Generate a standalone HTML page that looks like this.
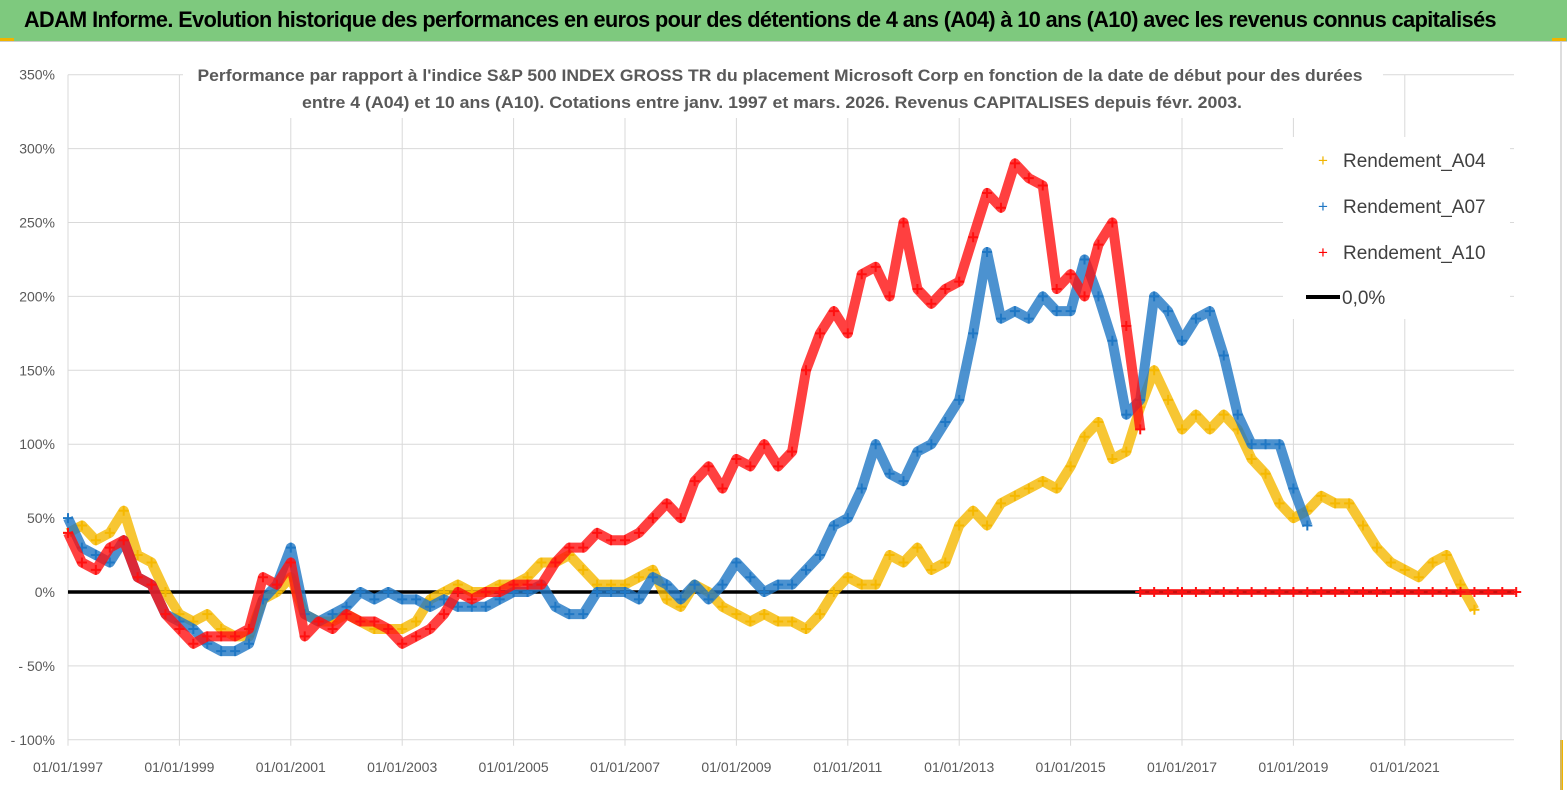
<!DOCTYPE html>
<html><head><meta charset="utf-8"><style>
body{margin:0;width:1567px;height:790px;background:#fff;overflow:hidden;font-family:"Liberation Sans",sans-serif}
#hdr{position:absolute;left:0;top:0;width:1567px;height:41px;background:#7ec97e;border-bottom:1px solid #ccc}
#hdr span{position:absolute;left:24px;top:7px;font-size:22px;font-weight:bold;color:#000;letter-spacing:-0.6px;white-space:nowrap;transform:scaleX(0.985);transform-origin:left}
</style></head><body>
<div id="hdr"><span>ADAM Informe. Evolution historique des performances en euros pour des détentions de 4 ans (A04) à 10 ans (A10) avec les revenus connus capitalisés</span></div>
<svg id="chart" width="1567" height="790" style="position:absolute;left:0;top:0">
<rect x="0" y="38" width="14" height="3" fill="#f0b400"/>
<rect x="1552" y="38" width="14" height="3" fill="#f0b400"/>
<rect x="1560" y="740" width="3" height="50" fill="#f0b400"/>
<line x1="1561" y1="42" x2="1561" y2="790" stroke="#bbb"/>
<g id="grid"></g>
<g id="marks"></g>
<g id="labels" font-family="Liberation Sans, sans-serif" font-size="14" fill="#595959"></g>
<rect x="183" y="62" width="1200" height="56" fill="#fff"/>
<text x="780" y="81" text-anchor="middle" font-size="17" font-weight="bold" fill="#595959" textLength="1165" lengthAdjust="spacingAndGlyphs">Performance par rapport à l'indice S&amp;P 500 INDEX GROSS TR  du placement Microsoft Corp en fonction de la date de début pour des durées</text>
<text x="772" y="108" text-anchor="middle" font-size="17" font-weight="bold" fill="#595959" textLength="940" lengthAdjust="spacingAndGlyphs">entre 4 (A04) et 10 ans (A10). Cotations entre janv. 1997 et mars. 2026. Revenus CAPITALISES depuis févr. 2003.</text>
<g>
<rect x="1283" y="137" width="227" height="182" fill="#fff"/>
<text x="1323" y="166" font-size="17" fill="#f0b400" text-anchor="middle">+</text>
<text x="1343" y="167" font-size="19" fill="#404040">Rendement_A04</text>
<text x="1323" y="212" font-size="17" fill="#1f77c4" text-anchor="middle">+</text>
<text x="1343" y="213" font-size="19" fill="#404040">Rendement_A07</text>
<text x="1323" y="258" font-size="17" fill="#ff0000" text-anchor="middle">+</text>
<text x="1343" y="259" font-size="19" fill="#404040">Rendement_A10</text>
<line x1="1306" y1="297" x2="1340" y2="297" stroke="#000" stroke-width="4"/>
<text x="1342" y="304" font-size="19" fill="#404040">0,0%</text>
</g>
</svg>
<script>
const yTicks=[350,300,250,200,150,100,50,0,-50,-100];
const xTickYears=[1997,1999,2001,2003,2005,2007,2009,2011,2013,2015,2017,2019,2021];
const a04Start=1997;
const a04=[40,45,35,40,55,25,20,0,-15,-20,-15,-25,-30,-30,-5,0,10,-15,-20,-20,-15,-20,-25,-25,-25,-20,-5,0,5,0,0,5,5,10,20,20,25,15,5,5,5,10,15,-5,-10,5,0,-10,-15,-20,-15,-20,-20,-25,-15,0,10,5,5,25,20,30,15,20,45,55,45,60,65,70,75,70,85,105,115,90,95,125,150,130,110,120,110,120,110,90,80,60,50,55,65,60,60,45,30,20,15,10,20,25,5,-12];
const a07=[50,30,25,20,35,10,5,-15,-20,-25,-35,-40,-40,-35,-5,5,30,-15,-20,-15,-10,0,-5,0,-5,-5,-10,-5,-10,-10,-10,-5,0,0,5,-10,-15,-15,0,0,0,-5,10,5,-5,5,-5,5,20,10,0,5,5,15,25,45,50,70,100,80,75,95,100,115,130,175,230,185,190,185,200,190,190,225,200,170,120,130,200,190,170,185,190,160,120,100,100,100,70,45];
const a10=[40,20,15,30,35,10,5,-15,-25,-35,-30,-30,-30,-25,10,5,20,-30,-20,-25,-15,-20,-20,-25,-35,-30,-25,-15,0,-5,0,0,5,5,5,20,30,30,40,35,35,40,50,60,50,75,85,70,90,85,100,85,95,150,175,190,175,215,220,200,250,205,195,205,210,240,270,260,290,280,275,205,215,200,235,250,180,110];
const zeroStart=2016.25, zeroEnd=2023.0, zeroStep=0.25;
const X0=68,X1=1514,Y0=592,PX=1.478,PY=55.7;
const xs=y=>X0+(y-1997)*PY;
const ys=v=>Y0-v*PX;
const NS='http://www.w3.org/2000/svg';
const grid=document.getElementById('grid'),marks=document.getElementById('marks'),lab=document.getElementById('labels');
function mk(tag,attrs,parent){const e=document.createElementNS(NS,tag);for(const k in attrs)e.setAttribute(k,attrs[k]);parent.appendChild(e);return e;}
yTicks.forEach(v=>{
 const l=mk('line',{x1:X0,x2:X1,y1:ys(v),y2:ys(v),stroke:'#d9d9d9'},grid);
 
 
 const t=mk('text',{x:55,y:ys(v)+5,'text-anchor':'end'},lab);
 t.textContent=(v<0?'- ':'')+Math.abs(v)+'%';
 
 
});
xTickYears.forEach(yr=>{
 const l=mk('line',{x1:xs(yr),x2:xs(yr),y1:ys(350),y2:ys(-100)+6,stroke:'#d9d9d9'},grid);
 
 
 const t=mk('text',{x:xs(yr),y:772,'text-anchor':'middle'},lab);
 t.textContent='01/01/'+yr;
 
 
});
const z=mk('line',{x1:X0,x2:X1,y1:ys(0),y2:ys(0),stroke:'#000','stroke-width':3.5},marks);


function series(arr,start,color,name,w){
 const g=mk('g',{},marks);
 
 
 const pts=arr.map((v,i)=>[xs(start+i*0.25),ys(v)]);
 mk('polyline',{points:pts.map(p=>p.join(',')).join(' '),fill:'none',stroke:color,'stroke-width':w,'stroke-linejoin':'round','stroke-opacity':0.8},g);
 pts.forEach(p=>{
  const m=mk('path',{d:`M${p[0]-5},${p[1]}h10M${p[0]},${p[1]-5}v10`,stroke:color,'stroke-width':2},g);
  
  
 });
}
series(a04,a04Start,'#f5b800','series-a04',10);
series(a07,1997,'#1f77c4','series-a07',10);
series(a10,1997,'#ff1010','series-a10',10);
const zr=[];for(let y=zeroStart;y<=zeroEnd;y+=zeroStep)zr.push(0);
series(zr,zeroStart,'#ff1010','series-a10-zero',6);
</script>
</body></html>
